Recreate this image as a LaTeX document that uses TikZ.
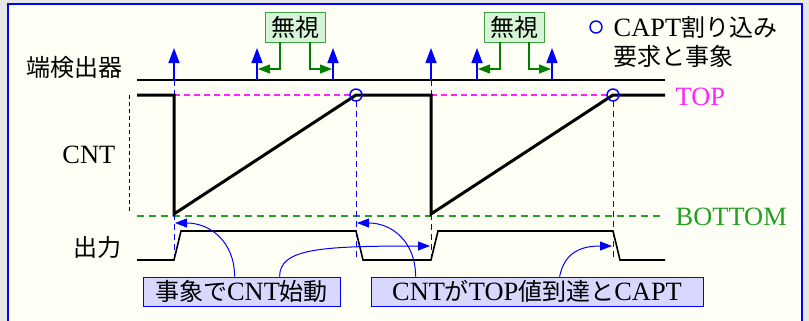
\documentclass[tikz,border=0pt]{standalone}
\usepackage{fontspec}
\setmainfont[Scale=1.1]{Liberation Serif}
\newfontfamily\jp{Noto Sans CJK JP}
\usetikzlibrary{calc,arrows.meta}
\definecolor{paper}{HTML}{FFFFF5}
\definecolor{outer}{HTML}{E6E6E6}
\definecolor{ignfill}{HTML}{D6F5D6}
\definecolor{ignline}{HTML}{40A040}
\definecolor{evfill}{HTML}{D8D8FF}
\definecolor{botgreen}{HTML}{22A022}
\definecolor{topmag}{HTML}{FF22FF}

\begin{document}
\begin{tikzpicture}[x=0.5pt,y=-0.5pt,font=\fontsize{12}{14}\selectfont,
  pulse/.style={blue,line width=0.7pt,-{Triangle[length=7.5pt,width=5.5pt]}},
  ignarrow/.style={green!50!black,line width=0.6pt,-{Triangle[length=6pt,width=4.5pt]}},
  evarrow/.style={blue,line width=0.5pt,-{Triangle[length=6pt,width=4.5pt]}},
  ignbox/.style={draw=ignline,fill=ignfill,minimum width=30pt,minimum height=15pt,inner sep=1pt},
  evbox/.style={draw=blue,fill=evfill,minimum height=14.5pt,inner sep=1pt},
  guide/.style={blue,dashed,line width=0.5pt,dash pattern=on 3pt off 2pt},
  capt/.style={blue,line width=0.7pt}]
  \useasboundingbox (0,0) rectangle (809,321);
  \fill[outer] (0,0) rectangle (809,321);
  \begin{scope}
    \clip (0,0) rectangle (809,321);
    \draw[blue,line width=1.25pt,fill=paper] (8,4) rectangle (802,340);
  \end{scope}

  % labels on the left
  \node[anchor=east] (ledge) at (130,67) {\jp 端検出器};
  \node[anchor=east] (lcnt) at (123,155) {CNT};
  \node[anchor=east] (lout) at (129,247) {\jp 出力};

  % edge detector line and its pulses
  \draw[line width=0.75pt] (137,80) -- (665,80);
  \foreach \x [count=\i] in {174,257,333,431,477,552}{
    \coordinate (p\i) at (\x,80);
    \draw[pulse] (p\i) -- ++(0,-32);
  }

  % ignored pulses
  \node[ignbox] (ign1) at (295,27) {\jp 無視};
  \node[ignbox] (ign2) at (514,27) {\jp 無視};
  \draw[ignarrow] ($(ign1.south)+(-15,0)$) |- ($(p2)+(1,-11)$);
  \draw[ignarrow] ($(ign1.south)+(15,0)$) |- ($(p3)+(-1,-11)$);
  \draw[ignarrow] ($(ign2.south)+(-14,0)$) |- ($(p5)+(1,-11)$);
  \draw[ignarrow] ($(ign2.south)+(15,0)$) |- ($(p6)+(-1,-11)$);

  % TOP and BOTTOM levels
  \draw[topmag,line width=0.6pt,dash pattern=on 3pt off 2pt] (174,95) -- (356,95) (431,95) -- (613,95);
  \draw[botgreen,line width=1pt,dash pattern=on 3.5pt off 2.5pt] (137,216) -- (665,216);
  \draw[line width=0.4pt,dash pattern=on 2pt off 1.5pt] (129,95) -- (129,214);
  \node[anchor=west,topmag] (ltop) at (668,97) {TOP};
  \node[anchor=west,botgreen] (lbot) at (668,217) {BOTTOM};

  % guide lines
  \foreach \x in {174,431}{
    \draw[guide] (\x,80) -- (\x,95);
    \draw[guide] (\x,214) -- (\x,260);
  }
  \foreach \x in {356,613}
    \draw[guide] (\x,101) -- (\x,260);

  % CNT
  \draw[line width=1.5pt,line join=miter] (137,95) -- (174,95) -- (174,214) -- (356,95) -- (431,95)
    -- (431,214) -- (613,95) -- (665,95);
  \draw[capt] (356,95) circle (6) (613,95) circle (6);

  % output
  \draw[line width=0.8pt] (137,260) -- (174,260) -- (181,231) -- (356,231) -- (363,260) -- (431,260)
    -- (438,231) -- (613,231) -- (620,260) -- (665,260);

  % legend
  \draw[capt] (596,27) circle (6);
  \node[anchor=west] (leg1) at (606,27) {CAPT{\jp 割り込み}};
  \node[anchor=west] (leg2) at (606,56) {\jp 要求と事象};

  % events
  \node[evbox,minimum width=98.5pt] (ev) at (241.5,291.5) {{\jp 事象で}CNT{\jp 始動}};
  \node[evbox,minimum width=166pt] (cap) at (537,291.5) {CNT{\jp が}TOP{\jp 値到達と}CAPT};
  \coordinate (up1) at (175,223);
  \coordinate (up2) at (430,246);
  \coordinate (dn1) at (357,223);
  \coordinate (dn2) at (612,246);
  \draw[evarrow] ($(ev.north west)+(92,0)$) .. controls +(0,-35) and +(35,0) .. (up1);
  \draw[evarrow] ($(ev.north west)+(137,0)$) .. controls +(0,-28) and +(-110,0) .. (up2);
  \draw[evarrow] ($(cap.north west)+(45,0)$) .. controls +(0,-35) and +(35,0) .. (dn1);
  \draw[evarrow] ($(cap.north west)+(189,0)$) .. controls +(5,-25) and +(-30,0) .. (dn2);
\end{tikzpicture}
\end{document}
